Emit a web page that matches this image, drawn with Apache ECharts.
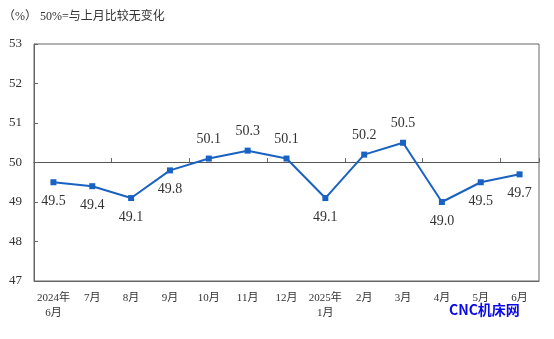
<!DOCTYPE html>
<html><head><meta charset="utf-8">
<script src="https://cdn.jsdelivr.net/npm/echarts@6/dist/echarts.min.js"></script>
<style>html,body{margin:0;padding:0;background:#fff}#c{width:554px;height:339px}</style>
</head><body><div id="c"></div>
<script>
const categories = ['2024年\n6月','7月','8月','9月','10月','11月','12月','2025年\n1月','2月','3月','4月','5月','6月'];
const values = [49.5,49.4,49.1,49.8,50.1,50.3,50.1,49.1,50.2,50.5,49.0,49.5,49.7];
const labelPos = ['bottom','bottom','bottom','bottom','top','top','top','bottom','top','top','bottom','bottom','bottom'];
const yMin = 47, yMax = 53, yStep = 1, baseline = 50;
const titleText = '（%） 50%=与上月比较无变化';
const watermark = 'CNC机床网';

const serif = '"Liberation Serif","Times New Roman","Noto Sans CJK SC",serif';
const chart = echarts.init(document.getElementById('c'));
chart.setOption({
  animation: false,
  grid: [
    {left: 34, right: 15, top: 44, bottom: 58, show: true, borderColor: '#666', borderWidth: 1},
    {left: 34, right: 15, top: 44, height: 118}
  ],
  xAxis: [
    {type: 'category', data: categories, gridIndex: 0,
     axisLine: {show: true, lineStyle: {color: '#666'}}, axisTick: {show: false},
     axisLabel: {color: '#333', fontSize: 11, fontFamily: serif, margin: 10, lineHeight: 15, interval: 0}},
    {type: 'category', data: categories, gridIndex: 1,
     axisLine: {show: true, lineStyle: {color: '#555', width: 1}},
     axisTick: {show: true, inside: true, length: 4, lineStyle: {color: '#666'}},
     axisLabel: {show: false}}
  ],
  yAxis: [
    {type: 'value', min: yMin, max: yMax, interval: yStep, gridIndex: 0,
     axisLine: {show: true, lineStyle: {color: '#666'}},
     axisTick: {show: true, inside: true, length: 4, lineStyle: {color: '#666'}},
     splitLine: {show: false},
     axisLabel: {color: '#333', fontSize: 13, fontFamily: serif, margin: 12}},
    {type: 'value', min: baseline, max: yMax, gridIndex: 1, show: false}
  ],
  graphic: [
    {type: 'text', left: 3, top: 11, style: {text: titleText, fill: '#333', font: '12px ' + serif}},
    {type: 'text', left: 449, top: 303, style: {text: watermark, fill: '#0a0ae6', font: 'bold 14px "Noto Sans CJK SC", sans-serif'}}
  ],
  series: [{
    type: 'line', xAxisIndex: 0, yAxisIndex: 0,
    data: values.map((v, i) => ({value: v, label: {position: labelPos[i]}})),
    symbol: 'rect', symbolSize: 6,
    lineStyle: {color: '#1a62c2', width: 2},
    itemStyle: {color: '#1a62c2'},
    label: {show: true, distance: 9, color: '#333', fontSize: 14, fontFamily: serif,
            formatter: p => p.value.toFixed(1)}
  }]
});
</script></body></html>
